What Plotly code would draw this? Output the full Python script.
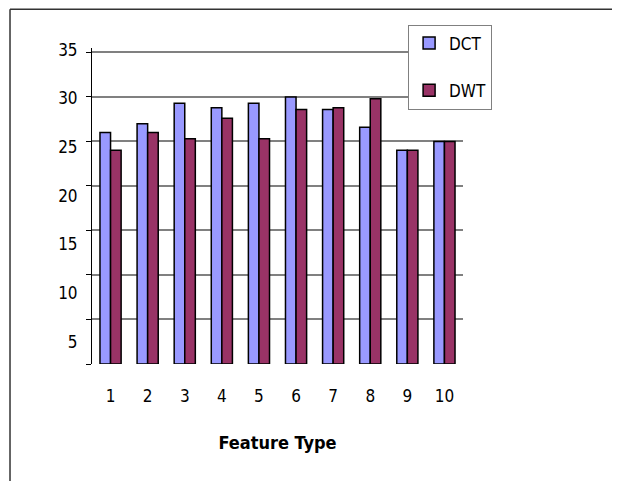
import plotly.graph_objects as go

categories = ["1", "2", "3", "4", "5", "6", "7", "8", "9", "10"]
dct = [26.0, 27.0, 29.3, 28.8, 29.3, 30.0, 28.6, 26.6, 24.0, 25.0]
dwt = [24.0, 26.0, 25.3, 27.6, 25.3, 28.6, 28.8, 29.8, 24.0, 25.0]
grid_vals = [0, 5, 10, 15, 20, 25, 30, 35]
ytick_labels = ["5", "10", "15", "20", "25", "30", "35"]

FONT = "Liberation Sans Narrow, Arial Narrow, DejaVu Sans Condensed, Liberation Sans, Arial, sans-serif"

fig = go.Figure()
fig.add_trace(go.Bar(x=categories, y=dct, name="DCT", legendgroup="a",
                     marker=dict(color="#9999FF", line=dict(color="#000000", width=1.5))))
fig.add_trace(go.Bar(x=categories, y=dwt, name="DWT", legendgroup="b",
                     marker=dict(color="#993366", line=dict(color="#000000", width=1.5))))

# label positions drift slightly from gridlines in the original rendering
label_pos = [35.3 - (35 - int(t)) * 1.094 for t in ytick_labels]

fig.update_layout(
    width=620, height=481,
    margin=dict(l=84, r=165, t=39.5, b=125, autoexpand=False),
    paper_bgcolor="white", plot_bgcolor="white",
    barmode="group", bargap=0.43, bargroupgap=0.0,
    font=dict(family=FONT, size=17, color="#000000"),
    showlegend=True,
    legend=dict(x=0.852, y=1.0742, xanchor="left", yanchor="top",
                bgcolor="white", bordercolor="#808080", borderwidth=1,
                font=dict(family=FONT, size=17), tracegroupgap=22,
                traceorder="grouped", itemwidth=30),
    xaxis=dict(showgrid=False, showline=False, ticks="", ticklabelstandoff=20,
               automargin=False,
               tickfont=dict(family=FONT, size=17),
               title=dict(text="<b>Feature Type</b>", font=dict(family=FONT, size=18), standoff=31)),
    yaxis=dict(range=[0, 35.5], showgrid=False, zeroline=False, automargin=False,
               showline=True, linecolor="#000000", linewidth=1,
               tickmode="array", tickvals=label_pos, ticktext=ytick_labels,
               ticks="", tickfont=dict(family=FONT, size=17), ticklabelstandoff=10,
               minor=dict(tickmode="array", tickvals=grid_vals, showgrid=True,
                          gridcolor="#808080", gridwidth=1.5,
                          ticks="outside", ticklen=5, tickcolor="#000000")),
    shapes=[
        dict(type="line", xref="paper", yref="paper", x0=-0.221, x1=1.5, y0=1.1224, y1=1.1224,
             line=dict(color="#333333", width=1.5)),
        dict(type="line", xref="paper", yref="paper", x0=-0.221, x1=-0.221, y0=1.1224, y1=-0.5,
             line=dict(color="#333333", width=1.5)),
    ],
)

fig.write_html("out.html")
